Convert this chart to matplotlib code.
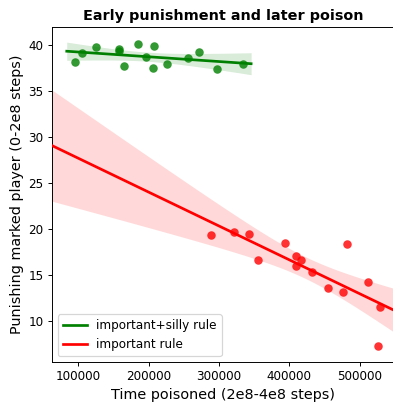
import numpy as np
import matplotlib
matplotlib.use("Agg")
import matplotlib.pyplot as plt

# --- data ---
green_x = [95700, 106000, 125700, 157600, 158600, 165700, 184800, 196700,
           207600, 206200, 226700, 256700, 271000, 297100, 333800]
green_y = [38.15, 39.1, 39.8, 39.6, 39.4, 37.75, 40.07, 38.7,
           39.9, 37.5, 37.9, 38.55, 39.24, 37.35, 37.9]
red_x = [288600, 321900, 343300, 355200, 393300, 410000, 417100, 410000,
         432400, 454300, 476700, 481400, 511400, 529000, 525700]
red_y = [19.35, 19.7, 19.45, 16.6, 18.5, 17.1, 16.6, 16.0,
         15.3, 13.55, 13.2, 18.4, 14.2, 11.5, 7.3]
labels = ["important+silly rule", "important rule"]

T975 = 2.160  # t quantile for n-2 = 13 dof
DPI = 86.4


def fit_band(x, y, grid):
    x = np.asarray(x, float)
    y = np.asarray(y, float)
    n = len(x)
    b, a = np.polyfit(x, y, 1)
    yhat = a + b * grid
    resid = y - (a + b * x)
    s = np.sqrt(np.sum(resid ** 2) / (n - 2))
    sxx = np.sum((x - x.mean()) ** 2)
    se = s * np.sqrt(1.0 / n + (grid - x.mean()) ** 2 / sxx)
    return yhat, yhat - T975 * se, yhat + T975 * se


fig = plt.figure(figsize=(393 / DPI, 405 / DPI), dpi=DPI)
ax = fig.add_axes([52 / 393, 1 - 362 / 405, (393 - 52) / 393 + 0.005, (362 - 27) / 405])

xlim = (62857, 550000)

# green (important+silly)
gx = np.array(green_x, float)
span = gx.max() - gx.min()
ggrid = np.linspace(gx.min() - 0.05 * span, gx.max() + 0.05 * span, 100)
gy, glo, ghi = fit_band(green_x, green_y, ggrid)
ax.scatter(green_x, green_y, s=50, color="green", alpha=0.8, linewidths=0, zorder=3)
ax.plot(ggrid, gy, color="green", lw=2.25, label=labels[0], zorder=4)
ax.fill_between(ggrid, glo, ghi, color="green", alpha=0.15, linewidth=0)

# red (important)
rgrid = np.linspace(xlim[0], xlim[1], 100)
ry, rlo, rhi = fit_band(red_x, red_y, rgrid)
ax.scatter(red_x, red_y, s=50, color="red", alpha=0.8, linewidths=0, zorder=3)
ax.plot(rgrid, ry, color="red", lw=2.25, label=labels[1], zorder=4)
ax.fill_between(rgrid, rlo, rhi, color="red", alpha=0.15, linewidth=0)

ax.set_xlim(*xlim)
ax.set_ylim(5.54, 41.96)
ax.set_xticks([100000, 200000, 300000, 400000, 500000])
ax.set_yticks([10, 15, 20, 25, 30, 35, 40])
ax.tick_params(labelsize=10)
ax.set_xlabel("Time poisoned (2e8-4e8 steps)", fontsize=12)
ax.set_ylabel("Punishing marked player (0-2e8 steps)", fontsize=12)
ax.set_title("Early punishment and later poison", fontsize=12, fontweight="bold")
ax.spines["right"].set_visible(False)
ax.legend(loc="lower left", fontsize=10)

fig.savefig("out.png", dpi=DPI)
